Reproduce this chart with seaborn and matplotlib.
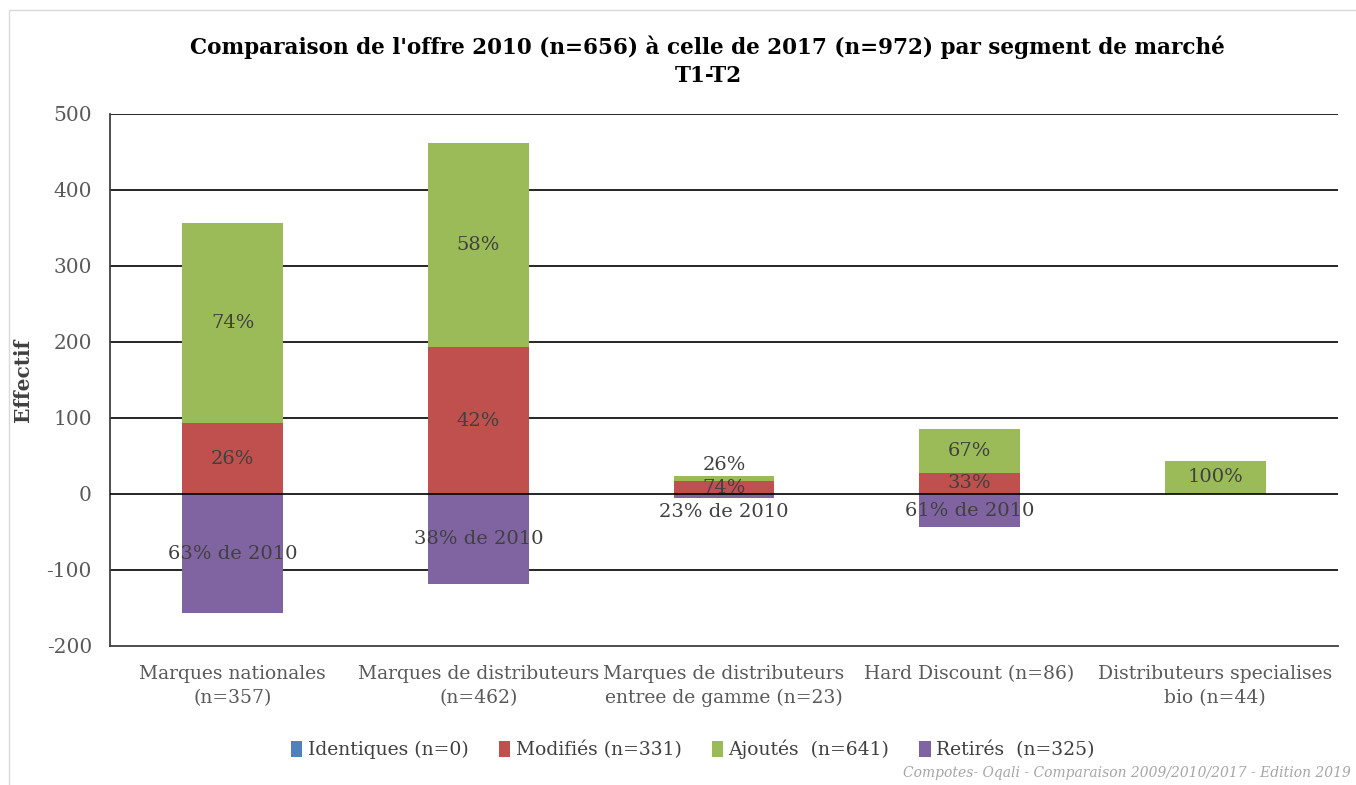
import numpy as np
import pandas as pd
import seaborn as sns
import matplotlib.pyplot as plt
from matplotlib.patches import Patch

sns.set_theme(style="white")
plt.rcParams["font.family"] = ["DejaVu Serif"]
plt.rcParams["axes.unicode_minus"] = False

# Données
segments = ["Marques nationales\n(n=357)", "Marques de distributeurs\n(n=462)",
            "Marques de distributeurs\nentree de gamme (n=23)", "Hard Discount (n=86)",
            "Distributeurs specialises\nbio (n=44)"]
identiques = [0, 0, 0, 0, 0]
modifies = [93, 193, 17, 28, 0]
ajoutes = [264, 269, 6, 58, 44]
retires = [-157, -119, -5, -44, 0]

lab_modifies = ["26%", "42%", "74%", "33%", ""]
lab_ajoutes = ["74%", "58%", "26%", "67%", "100%"]
lab_retires = ["63% de 2010", "38% de 2010", "23% de 2010", "61% de 2010", ""]

legend_labels = ["Identiques (n=0)", "Modifiés (n=331)", "Ajoutés  (n=641)", "Retirés  (n=325)"]
colors = ["#4F81BD", "#C0504D", "#9BBB59", "#8064A2"]

df = pd.DataFrame({"segment": segments, "identiques": identiques, "modifies": modifies,
                   "ajoutes": ajoutes, "retires": retires})

fig = plt.figure(figsize=(13.56, 7.85), dpi=100)
ax = fig.add_axes([0.0811, 0.1771, 0.9056, 0.6777])

w = 0.41
bar_kw = dict(width=w, saturation=1, zorder=2, linewidth=0, edgecolor="none")
sns.barplot(ax=ax, data=df, x="segment", y="modifies", color=colors[1], **bar_kw)
sns.barplot(ax=ax, data=df, x="segment", y="ajoutes", bottom=df["modifies"], color=colors[2], **bar_kw)
sns.barplot(ax=ax, data=df, x="segment", y="retires", color=colors[3], **bar_kw)

txt = dict(ha="center", va="center", fontsize=14, color="#404040", zorder=4)
for i in range(len(segments)):
    m, a, r = modifies[i], ajoutes[i], retires[i]
    if lab_modifies[i]:
        ax.text(i, m / 2, lab_modifies[i], **txt)
    if lab_ajoutes[i]:
        ya = m + a / 2 if a > 15 else m + a + 15
        ax.text(i, ya, lab_ajoutes[i], **txt)
    if lab_retires[i]:
        yr = r / 2 if -r > 15 else -24
        ax.text(i, yr, lab_retires[i], **txt)

ax.set_ylim(-200, 500)
ax.set_xlim(-0.5, 4.5)
ax.set_yticks(np.arange(-200, 501, 100))
for y in range(-100, 501, 100):
    ax.axhline(y, color="black", lw=1.2, zorder=1 if y != 0 else 3)
ax.tick_params(axis="y", labelsize=14.5, labelcolor="#595959", pad=13, length=0)
ax.tick_params(axis="x", labelsize=13.5, labelcolor="#595959", pad=14, length=0)
for t in ax.get_xticklabels():
    t.set_linespacing(1.4)
ax.set_xlabel("")
ax.set_ylabel("Effectif", fontsize=14.5, fontweight="bold", color="#404040", labelpad=10)
for s in ["top", "right"]:
    ax.spines[s].set_visible(False)
ax.spines["left"].set_color("#404040")
ax.spines["bottom"].set_color("#404040")
ax.spines["left"].set_linewidth(1.3)
ax.spines["bottom"].set_linewidth(1.3)

fig.text(0.522, 0.922, "Comparaison de l'offre 2010 (n=656) à celle de 2017 (n=972) par segment de marché\nT1-T2",
         ha="center", va="center", fontsize=15.5, fontweight="bold", color="black", linespacing=1.3)

handles = [Patch(facecolor=c, edgecolor="none") for c in colors]
fig.legend(handles, legend_labels, loc="center", bbox_to_anchor=(0.511, 0.045), ncol=4,
           frameon=False, fontsize=13.5, labelcolor="#404040", handlelength=0.6, handleheight=0.9,
           handletextpad=0.3, columnspacing=1.6)

fig.text(0.996, 0.006, "Compotes- Oqali - Comparaison 2009/2010/2017 - Edition 2019",
         ha="right", va="bottom", fontsize=10, style="italic", color="#A6A6A6")

fig.patches.append(plt.Rectangle((0.007, -0.01), 1.0, 0.997, transform=fig.transFigure,
                                 fill=False, edgecolor="#D9D9D9", lw=1))

fig.savefig("out.png", dpi=100)
